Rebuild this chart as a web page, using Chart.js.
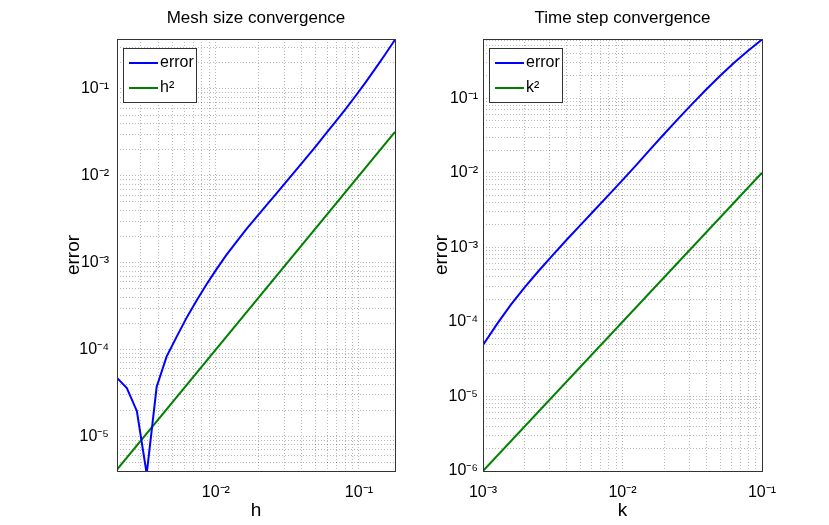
<!DOCTYPE html>
<html>
<head>
<meta charset="utf-8">
<script src="https://cdn.jsdelivr.net/npm/chart.js@4.4.0/dist/chart.umd.min.js"></script>
<style>
  body { margin: 0; background: #fff; }
  .panel { position: absolute; top: 0; height: 525px; }
</style>
</head>
<body>
<div class="panel" style="left:0;width:414px"><canvas id="meshChart"></canvas></div>
<div class="panel" style="left:414px;width:415px"><canvas id="stepChart"></canvas></div>
<script>
// Mesh size convergence
const meshH = [0.00204, 0.00239, 0.00281, 0.00329, 0.00386, 0.00453, 0.00531, 0.00623, 0.00731, 0.00858,
  0.01007, 0.0118, 0.0139, 0.0163, 0.0191, 0.0224, 0.0263, 0.0308, 0.0361, 0.0424,
  0.0498, 0.0584, 0.0685, 0.0804, 0.0944, 0.1107, 0.1298, 0.1524, 0.1787];
const meshError = [4.72e-5, 3.61e-5, 1.95e-5, 3.7e-6, 3.7e-5, 8.3e-5, 1.39e-4, 2.30e-4, 3.63e-4, 5.57e-4,
  8.32e-4, 1.21e-3, 1.72e-3, 2.41e-3, 3.30e-3, 4.50e-3, 6.14e-3, 8.39e-3, 0.01148, 0.01574,
  0.02168, 0.03006, 0.04169, 0.05821, 0.08222, 0.1175, 0.1698, 0.2489, 0.368];
const meshRefH = [0.00204, 0.1787];
const meshRef = [4.16e-6, 0.0319];

// Time step convergence
const stepK = [0.001, 0.001259, 0.001585, 0.001995, 0.002512, 0.003162, 0.003981, 0.005012, 0.00631, 0.007943,
  0.01, 0.01259, 0.01585, 0.01995, 0.02512, 0.03162, 0.03981, 0.05012, 0.0631, 0.07943, 0.1];
const stepError = [4.90e-5, 9.33e-5, 1.70e-4, 2.92e-4, 4.84e-4, 7.85e-4, 1.259e-3, 1.995e-3, 3.162e-3, 5.01e-3,
  7.94e-3, 0.01274, 0.02065, 0.03327, 0.05309, 0.08356, 0.1303, 0.1995, 0.2985, 0.4315, 0.6095];
const stepRefK = [0.001, 0.1];
const stepRef = [1e-6, 1e-2];

const FONT = '"Liberation Sans", Arial, Helvetica, sans-serif';
const SUP = {'-': '\u207B', '0': '\u2070', '1': '\u00B9', '2': '\u00B2', '3': '\u00B3', '4': '\u2074',
  '5': '\u2075', '6': '\u2076', '7': '\u2077', '8': '\u2078', '9': '\u2079'};

function decadeLabel(v) {
  const e = Math.round(Math.log10(v));
  if (Math.abs(v / Math.pow(10, e) - 1) > 1e-6) return '';
  return '10' + String(e).split('').map(c => SUP[c]).join('');
}

// grid lines at 1..9 x 10^n, like matlab's minor grid
function logGrid(scale) {
  const lo = Math.floor(Math.log10(scale.min)), hi = Math.ceil(Math.log10(scale.max));
  const ticks = [];
  for (let e = lo; e <= hi; e++) {
    for (let m = 1; m <= 9; m++) {
      const v = m * Math.pow(10, e);
      if (v >= scale.min * 0.9999 && v <= scale.max * 1.0001) ticks.push({ value: v });
    }
  }
  scale.ticks = ticks;
}

function pairs(xs, ys) {
  return xs.map((x, i) => ({ x: x, y: ys[i] }));
}

// box, title and legend drawn inside the axes like the original figure
const framePlugin = {
  id: 'frame',
  afterDraw(chart, args, opts) {
    const { ctx, chartArea: a } = chart;
    ctx.save();
    ctx.strokeStyle = '#333';
    ctx.lineWidth = 1;
    ctx.strokeRect(Math.round(a.left) + 0.5, Math.round(a.top) + 0.5,
      Math.round(a.right - a.left), Math.round(a.bottom - a.top));

    ctx.fillStyle = '#000';
    ctx.font = '17px ' + FONT;
    ctx.textAlign = 'center';
    ctx.textBaseline = 'middle';
    ctx.fillText(opts.title, (a.left + a.right) / 2, 18);

    const bx = Math.round(a.left) + 6, by = Math.round(a.top) + 9, bw = 73, bh = 54;
    ctx.fillStyle = '#fff';
    ctx.fillRect(bx, by, bw, bh);
    ctx.strokeStyle = '#333';
    ctx.strokeRect(bx + 0.5, by + 0.5, bw, bh);
    ctx.font = '16px ' + FONT;
    ctx.textAlign = 'left';
    chart.data.datasets.forEach((ds, i) => {
      const y = by + 15 + i * 25;
      ctx.strokeStyle = ds.borderColor;
      ctx.lineWidth = 2;
      ctx.beginPath();
      ctx.moveTo(bx + 6, y);
      ctx.lineTo(bx + 35, y);
      ctx.stroke();
      ctx.fillStyle = '#000';
      ctx.fillText(ds.label, bx + 37, y);
    });
    ctx.restore();
  }
};

function makePanel(id, cfg) {
  const gridOpts = { color: 'rgba(0,0,0,0.28)', drawTicks: false };
  return new Chart(document.getElementById(id), {
    type: 'line',
    data: {
      datasets: [
        { label: 'error', data: pairs(cfg.xs, cfg.err), borderColor: '#0000ff', borderWidth: 2,
          pointRadius: 0, tension: 0 },
        { label: cfg.refLabel, data: pairs(cfg.refX, cfg.ref), borderColor: '#008000', borderWidth: 2,
          pointRadius: 0, tension: 0 }
      ]
    },
    options: {
      responsive: true,
      maintainAspectRatio: false,
      animation: false,
      layout: { padding: cfg.padding },
      plugins: {
        legend: { display: false },
        tooltip: { enabled: false },
        frame: { title: cfg.title }
      },
      scales: {
        x: {
          type: 'logarithmic',
          min: cfg.xMin, max: cfg.xMax,
          afterBuildTicks: logGrid,
          afterFit: s => { s.height = 54; },
          grid: gridOpts,
          border: { display: false, dash: [1, 2] },
          ticks: { callback: decadeLabel, autoSkip: false, maxRotation: 0, padding: 12,
            color: '#000', font: { family: FONT, size: 16 } },
          title: { display: true, text: cfg.xTitle, color: '#000', padding: { top: 0, bottom: 3 },
            font: { family: FONT, size: 19 } }
        },
        y: {
          type: 'logarithmic',
          min: cfg.yMin, max: cfg.yMax,
          afterBuildTicks: logGrid,
          afterFit: s => { s.width = cfg.yWidth; },
          grid: gridOpts,
          border: { display: false, dash: [1, 2] },
          ticks: { callback: decadeLabel, autoSkip: false, padding: cfg.tickPad,
            color: '#000', font: { family: FONT, size: 16 } },
          title: { display: true, text: 'error', color: '#000', padding: { top: 0, bottom: 0 },
            font: { family: FONT, size: 19 } }
        }
      }
    },
    plugins: [framePlugin]
  });
}

makePanel('meshChart', {
  title: 'Mesh size convergence', xTitle: 'h', refLabel: 'h\u00B2',
  xs: meshH, err: meshError, refX: meshRefH, ref: meshRef,
  xMin: 0.00204, xMax: 0.1787, yMin: 4e-6, yMax: 0.375,
  padding: { left: 62, right: 19, top: 39, bottom: 0 }, yWidth: 55, tickPad: 8
});

makePanel('stepChart', {
  title: 'Time step convergence', xTitle: 'k', refLabel: 'k\u00B2',
  xs: stepK, err: stepError, refX: stepRefK, ref: stepRef,
  xMin: 0.001, xMax: 0.1, yMin: 1e-6, yMax: 0.62,
  padding: { left: 16, right: 67, top: 39, bottom: 0 }, yWidth: 53, tickPad: 5
});
</script>
</body>
</html>
